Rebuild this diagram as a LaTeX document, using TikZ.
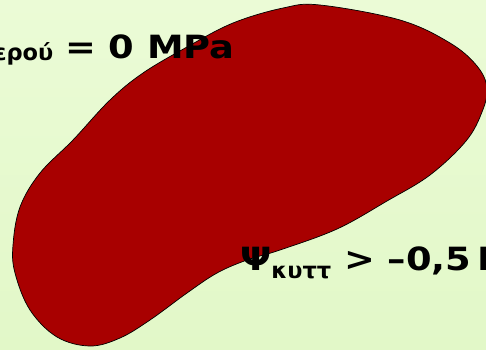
\documentclass[tikz,border=0pt]{standalone}
\usepackage{fontspec}
\setmainfont{DejaVu Sans}[FakeStretch=1.15]
\newfontfamily\subfont{DejaVu Sans}
\definecolor{bgtop}{HTML}{EBFBD6}
\definecolor{bgbot}{HTML}{E2F8C8}
\definecolor{blobred}{HTML}{A80000}
\tikzset{
  label/.style={font=\bfseries\fontsize{32}{32}\selectfont, inner sep=0pt, text=black},
}
\newcommand{\subtxt}[2]{\raisebox{#1}{\subfont\bfseries\fontsize{22.5}{22.5}\selectfont #2}}
\begin{document}
\begin{tikzpicture}[x=1pt,y=-1pt]
\useasboundingbox (0,0) rectangle (486,349);
\shade[top color=bgtop, bottom color=bgbot] (0,0) rectangle (486,349);
\draw[fill=blobred, draw=black, line width=0.7pt]
  plot[smooth cycle, tension=0.6] coordinates {
  (320,5) (400,20) (450,43) (477,66) (487,88) (482,112) (466,141)
  (430,175) (387,201) (337,229) (280,250) (247,260) (217,273)
  (187,293) (150,320) (120,338) (90,346) (57,337) (30,310)
  (15,273) (13,245) (20,207) (40,173) (73,140) (110,100)
  (143,73) (187,47) (233,23) (283,8)};
\node[label, anchor=base east] (water) at (235,58)
  {Ψ\subtxt{-2pt}{νερού}\hspace{12pt}= 0 MPa};
\node[label, anchor=base west] (cell) at (240,270)
  {Ψ\subtxt{-8pt}{κυττ} > –0,5\hspace{6pt}MPa};
\end{tikzpicture}
\end{document}
